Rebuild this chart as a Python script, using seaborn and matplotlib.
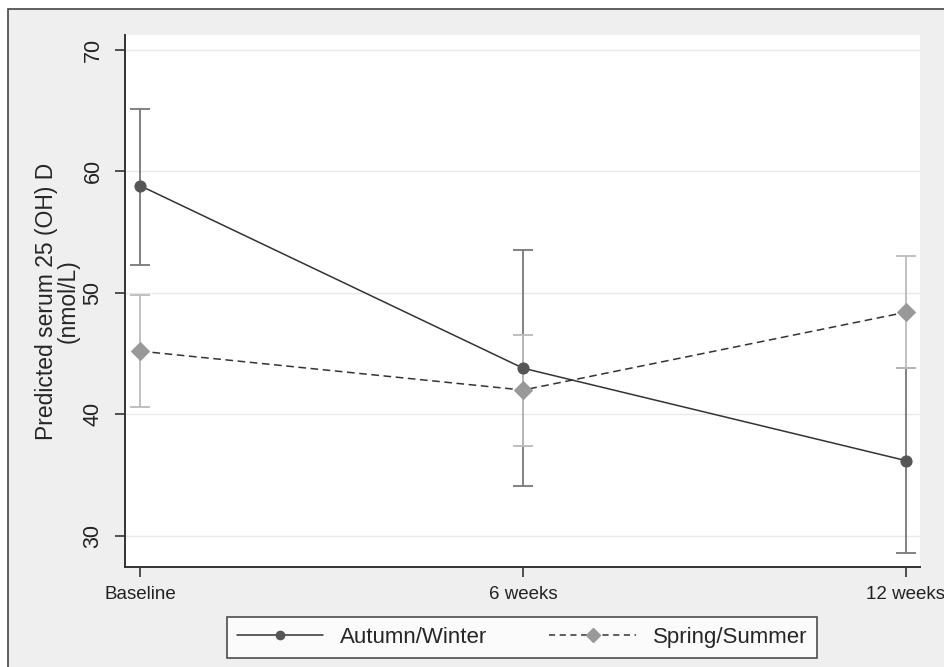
import matplotlib
matplotlib.use("Agg")
import matplotlib.pyplot as plt
import matplotlib.patches as mpatches
from matplotlib.lines import Line2D
import seaborn as sns
import pandas as pd
import numpy as np

# ---- data ----
timepoints = ["Baseline", "6 weeks", "12 weeks"]
groups = ["Autumn/Winter", "Spring/Summer"]
autumn_mean = [58.8, 43.8, 36.2]
autumn_low = [52.3, 34.1, 28.6]
autumn_high = [65.1, 53.5, 43.8]
spring_mean = [45.2, 42.0, 48.4]
spring_low = [40.6, 37.4, 43.8]
spring_high = [49.8, 46.5, 53.0]
yticks = [30, 40, 50, 60, 70]

sns.set_theme(style="white")
plt.rcParams["font.family"] = ["Liberation Sans", "DejaVu Sans"]

fig = plt.figure(figsize=(9.44, 6.67), dpi=100, facecolor="white")
# outer gray panel with border (only left/top edges visible, as in a cropped export)
fig.patches.append(mpatches.Rectangle((8 / 944, -0.1), 1.2, 1.1 - 9 / 667, transform=fig.transFigure,
                                      facecolor="#efefef", edgecolor="#444444", linewidth=1.2, zorder=-10))

ax = fig.add_axes([125 / 944, 100 / 667, (920 - 125) / 944, (567 - 35) / 667])
ax.set_facecolor("white")

pos = np.arange(len(timepoints))
df = pd.DataFrame({
    "pos": np.concatenate([pos, pos]),
    "value": autumn_mean + spring_mean,
    "group": [groups[0]] * 3 + [groups[1]] * 3,
})

for y in yticks:
    ax.axhline(y, color="#e9e9e9", lw=1.0, zorder=0)

# error bars
a_err = [np.array(autumn_mean) - np.array(autumn_low), np.array(autumn_high) - np.array(autumn_mean)]
s_err = [np.array(spring_mean) - np.array(spring_low), np.array(spring_high) - np.array(spring_mean)]
ax.errorbar(pos, autumn_mean, yerr=a_err, fmt="none", ecolor="#777777", elinewidth=1.3,
            capsize=7, capthick=1.3, zorder=2)
ax.errorbar(pos, spring_mean, yerr=s_err, fmt="none", ecolor="#bbbbbb", elinewidth=1.3,
            capsize=7, capthick=1.3, zorder=3)

sns.lineplot(data=df[df.group == groups[0]], x="pos", y="value", ax=ax, color="#333333",
             lw=1.1, marker="o", markersize=8, markerfacecolor="#555555", markeredgecolor="#555555",
             legend=False, zorder=4)
sns.lineplot(data=df[df.group == groups[1]], x="pos", y="value", ax=ax, color="#333333",
             lw=1.1, linestyle=(0, (5, 3)), marker="D", markersize=9, markerfacecolor="#999999",
             markeredgecolor="#999999", legend=False, zorder=4)

ax.set_xlim(-0.04, 2.037)
ax.set_ylim(27.45, 71.2)
ax.set_xticks(pos)
ax.set_xticklabels(timepoints, fontsize=13.5)
ax.set_yticks(yticks)
ax.set_yticklabels([str(v) for v in yticks], fontsize=15.5, rotation=90, va="center")
ax.set_xlabel("")
ax.set_ylabel("Predicted serum 25 (OH) D\n(nmol/L)", fontsize=16.5, linespacing=0.95, labelpad=2)
ax.tick_params(axis="both", direction="out", length=7.5, width=1.2, color="#333333",
               labelcolor="#222222", bottom=True, left=True)
ax.tick_params(axis="y", pad=8)
ax.tick_params(axis="x", pad=6)
for s in ["top", "right"]:
    ax.spines[s].set_visible(False)
for s in ["left", "bottom"]:
    ax.spines[s].set_color("#333333")
    ax.spines[s].set_linewidth(1.4)

handles = [
    Line2D([], [], color="#333333", lw=1.1, marker="o", markersize=6,
           markerfacecolor="#555555", markeredgecolor="#555555"),
    Line2D([], [], color="#333333", lw=1.1, linestyle=(0, (4, 3)), marker="D", markersize=7,
           markerfacecolor="#999999", markeredgecolor="#999999"),
]
leg = fig.legend(handles, groups, loc="center", bbox_to_anchor=(522 / 944, 1 - 637.5 / 667),
                 ncol=2, fontsize=16, frameon=True, fancybox=False, edgecolor="#222222",
                 facecolor="white", handlelength=3.9, handletextpad=0.75, columnspacing=2.8,
                 borderpad=0.45, borderaxespad=0)
leg.get_frame().set_linewidth(1.2)

fig.savefig("out.png", dpi=100, facecolor=fig.get_facecolor())
